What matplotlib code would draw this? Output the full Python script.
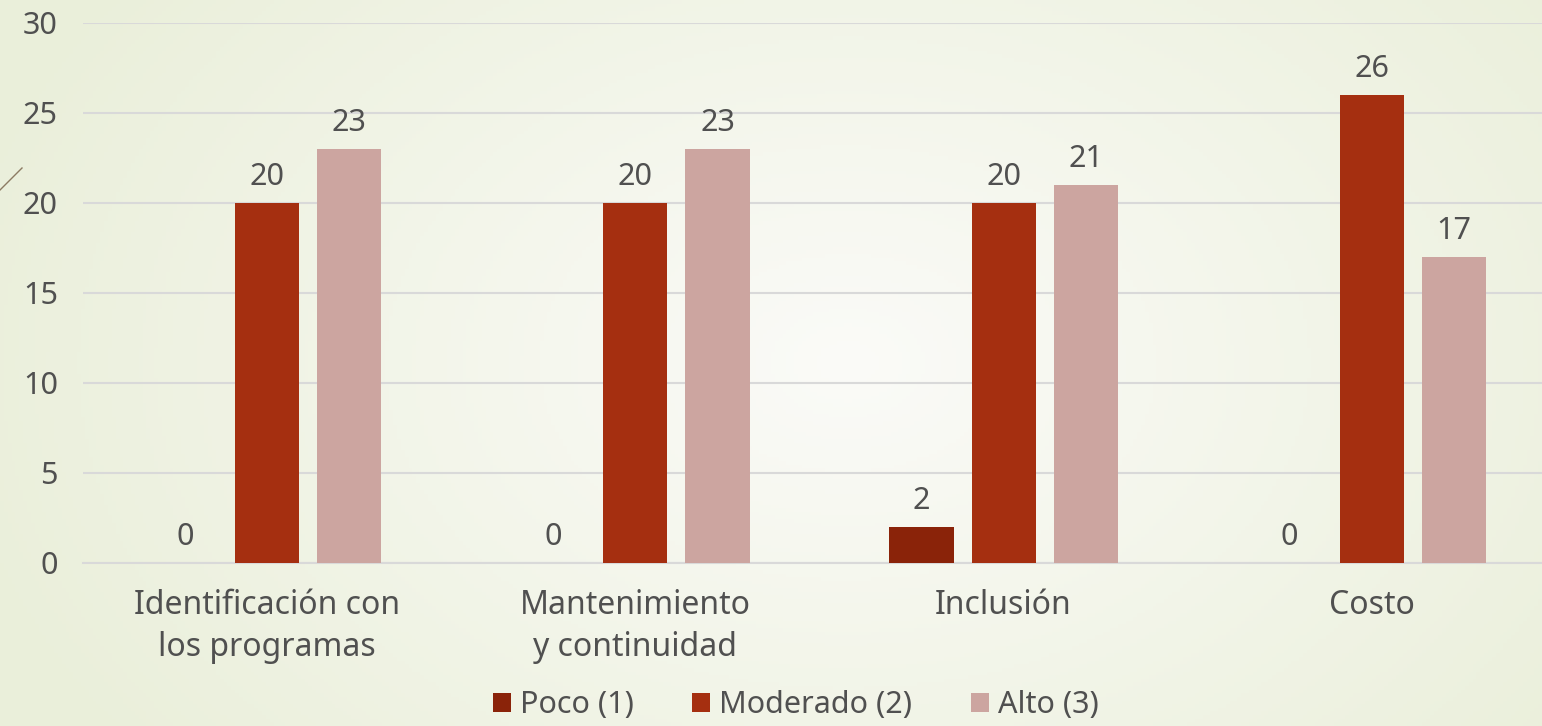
import numpy as np
import matplotlib.pyplot as plt
from matplotlib.patches import Patch
from matplotlib.lines import Line2D

categories = ["Identificación con\nlos programas", "Mantenimiento\ny continuidad", "Inclusión", "Costo"]
series_names = ["Poco (1)", "Moderado (2)", "Alto (3)"]
poco = [0, 0, 2, 0]
moderado = [20, 20, 20, 26]
alto = [23, 23, 21, 17]
yticks = [0, 5, 10, 15, 20, 25, 30]

colors = ["#8A2309", "#A52F10", "#CCA5A0"]
text_color = "#505050"
plt.rcParams['font.family'] = ['Noto Sans', 'DejaVu Sans']

fig = plt.figure(figsize=(15.42, 7.26), dpi=100)

# background gradient
bg = fig.add_axes([0, 0, 1, 1], zorder=-10)
xx = np.linspace(0, 1, 400)
yy = np.linspace(0, 1, 200)
X, Y = np.meshgrid(xx, yy)
d = np.sqrt(((X - 0.55) / 0.6) ** 2 + ((Y - 0.5) / 0.9) ** 2)
d = np.clip(d, 0, 1)
c_in = np.array([251, 251, 248]) / 255
c_out = np.array([234, 239, 218]) / 255
img = c_in[None, None, :] * (1 - d[..., None]) + c_out[None, None, :] * d[..., None]
bg.imshow(img, aspect='auto', extent=[0, 1, 0, 1], origin='lower')
bg.axis('off')
fig.add_artist(Line2D([0, 22 / 1542], [1 - 190 / 726, 1 - 168 / 726], color="#8C7B62", lw=1))

ax = fig.add_axes([83 / 1542, 163 / 726, 1 - 83 / 1542, (563 - 23) / 726])
ax.set_facecolor('none')

x = np.arange(len(categories))
w = 0.174
off = 0.223
fs = 22
for i, (vals, col) in enumerate(zip([poco, moderado, alto], colors)):
    pos = x + (i - 1) * off
    ax.bar(pos, vals, width=w, color=col, zorder=3)
    for p, v in zip(pos, vals):
        ax.annotate(str(v), (p, v), xytext=(0, 8), textcoords='offset points',
                    ha='center', va='bottom', fontsize=fs, color=text_color)

ax.set_xlim(-0.5, 3.462)
ax.set_ylim(0, 30)
ax.set_yticks(yticks)
ax.yaxis.grid(True, color="#D9D9D9", lw=1.5, zorder=0)
ax.set_axisbelow(True)
for s in ['top', 'right', 'left']:
    ax.spines[s].set_visible(False)
ax.spines['bottom'].set_color("#D9D9D9")
ax.spines['bottom'].set_linewidth(1.5)
ax.tick_params(axis='both', length=0, labelsize=fs, labelcolor=text_color)
ax.tick_params(axis='y', pad=18)
ax.tick_params(axis='x', pad=19, labelsize=23)
ax.set_xticks(x)
ax.set_xticklabels(categories, linespacing=1.33)

handles = [Patch(facecolor=c, edgecolor='none') for c in colors]
fig.legend(handles, series_names, loc='center', bbox_to_anchor=(0.516, 1 - 705 / 726),
           ncol=3, frameon=False, fontsize=fs, labelcolor=text_color,
           handlelength=0.6, handleheight=0.6, handletextpad=0.3, columnspacing=1.9)

fig.savefig("out.png", dpi=100)
